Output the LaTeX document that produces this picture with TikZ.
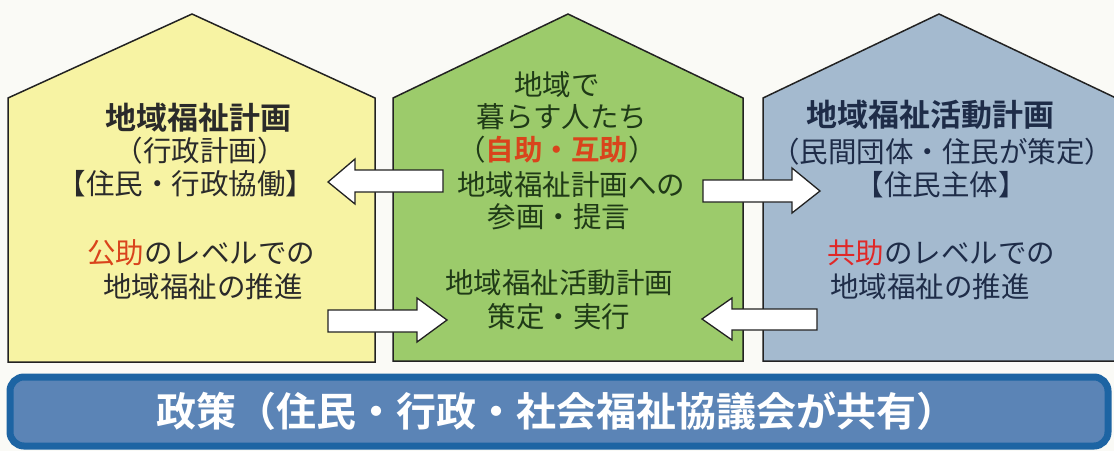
\documentclass[tikz,border=0pt]{standalone}
\usepackage{fontspec}
\setmainfont{Noto Sans CJK JP}[BoldFont={Noto Sans CJK JP Bold}]
\definecolor{bgc}{HTML}{FAFAF6}
\definecolor{yfill}{HTML}{F7F3A3}
\definecolor{gfill}{HTML}{9CCB6B}
\definecolor{bfill}{HTML}{A4BACF}
\definecolor{ltext}{HTML}{2A2A2A}
\definecolor{mtext}{HTML}{1F3A17}
\definecolor{rtext}{HTML}{1E2C48}
\definecolor{redA}{HTML}{D9441C}
\definecolor{redB}{HTML}{E02828}
\definecolor{banfill}{HTML}{5B84B6}
\definecolor{bandraw}{HTML}{1D64A3}
\definecolor{edge}{HTML}{222222}
\tikzset{
  house/.style={draw=edge, line width=1.5pt, line join=miter},
  blockarrow/.style={draw=edge, fill=white, line width=1.3pt, line join=miter},
  txt/.style={inner sep=0pt, anchor=center, font=\fontsize{28.5}{32}\selectfont},
  ttl/.style={inner sep=0pt, anchor=center, font=\fontsize{31}{34}\selectfont\bfseries},
}
\begin{document}
\begin{tikzpicture}[x=1pt,y=-1pt]
\useasboundingbox (0,0) rectangle (1114,451);
\fill[bgc] (0,0) rectangle (1114,451);
% houses
\draw[house, fill=yfill] (8,362) -- (8,98) -- (192,14) -- (375,98) -- (375,362) -- cycle;
\draw[house, fill=gfill] (393,361) -- (393,98) -- (568,14) -- (743,98) -- (743,361) -- cycle;
\draw[house, fill=bfill] (763,361) -- (763,98) -- (939,14) -- (1116,98) -- (1116,361) -- cycle;
% block arrows
\draw[blockarrow] (443,170) -- (355,170) -- (355,159) -- (328,182) -- (355,204) -- (355,192) -- (443,192) -- cycle;
\draw[blockarrow] (703,180) -- (792,180) -- (792,168) -- (820,191) -- (792,213) -- (792,202) -- (703,202) -- cycle;
\draw[blockarrow] (328,310) -- (417,310) -- (417,298) -- (447,320) -- (417,342) -- (417,332) -- (328,332) -- cycle;
\draw[blockarrow] (817,309) -- (732,309) -- (732,298) -- (702,319) -- (732,340) -- (732,330) -- (817,330) -- cycle;
% left house text
\node[ttl, text=ltext] (l1) at (198,118) {地域福祉計画};
\node[txt, text=ltext] (l2) at (200,151) {（行政計画）};
\node[txt, text=ltext] (l3) at (186,184) {【住民・行政協働】};
\node[txt, text=ltext] (l4) at (201,253) {\textcolor{redA}{公助}のレベルでの};
\node[txt, text=ltext] (l5) at (203,287) {地域福祉の推進};
% middle house text
\node[txt, text=mtext] (m1) at (557,85) {地域で};
\node[txt, text=mtext] (m2) at (562,117) {暮らす人たち};
\node[txt, text=mtext] (m3) at (557,150) {（\textcolor{redA}{\bfseries 自助・互助}）};
\node[txt, text=mtext] (m4) at (571,185) {地域福祉計画への};
\node[txt, text=mtext] (m5) at (559,217) {参画・提言};
\node[txt, text=mtext] (m6) at (559,283) {地域福祉活動計画};
\node[txt, text=mtext] (m7) at (559,317) {策定・実行};
% right house text
\node[ttl, text=rtext] (r1) at (930,115) {地域福祉活動計画};
\node[txt, text=rtext] (r2) at (942,152) {（民間団体・住民が策定）};
\node[txt, text=rtext] (r3) at (941,185) {【住民主体】};
\node[txt, text=rtext] (r4) at (941,253) {\textcolor{redB}{共助}のレベルでの};
\node[txt, text=rtext] (r5) at (930,287) {地域福祉の推進};
% banner
\draw[draw=bandraw, fill=banfill, line width=7pt, rounded corners=14pt] (10,377) rectangle (1108,446);
\node[inner sep=0pt, text=white, font=\fontsize{40}{44}\selectfont\bfseries] (ban) at (556,411) {政策（住民・行政・社会福祉協議会が共有）};
\end{tikzpicture}
\end{document}
